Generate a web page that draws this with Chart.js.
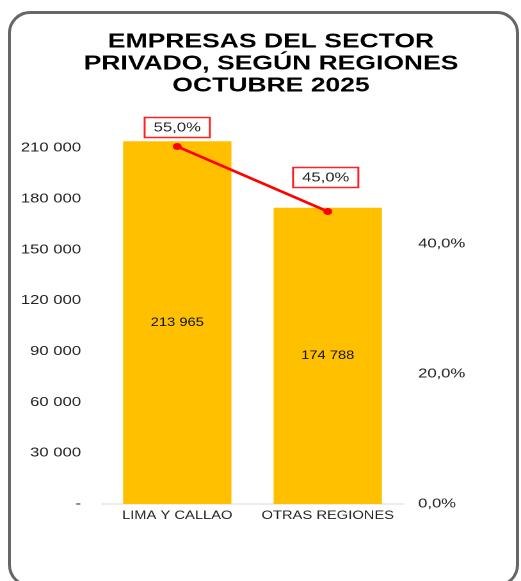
<!DOCTYPE html>
<html><head><meta charset="utf-8">
<script src="https://cdn.jsdelivr.net/npm/chart.js@4.4.1/dist/chart.umd.min.js"></script>
<style>
html,body{margin:0;padding:0;width:521px;height:581px;overflow:hidden;background:#fff;}
#frame{position:absolute;left:8px;top:11px;width:505px;height:570px;border:3px solid #666;border-radius:22px;box-sizing:content-box;}
#c{position:absolute;left:0;top:0;transform-origin:0 0;transform:scaleX(1.2801);}
</style></head><body>
<div id="frame"></div>
<canvas id="c" width="407" height="581"></canvas>
<script>
const titleLines = ['EMPRESAS DEL SECTOR', 'PRIVADO, SEGÚN REGIONES', 'OCTUBRE 2025'];
const categories = ['LIMA Y CALLAO', 'OTRAS REGIONES'];
const empresas = [213965, 174788];
const participacion = [55.0, 45.0];
const leftTicks = [0, 30000, 60000, 90000, 120000, 150000, 180000, 210000];
const rightTicks = [0, 20, 40];

const FONT = "'Liberation Sans', Arial, sans-serif";
const fmtInt = v => v === 0 ? '-' : String(Math.round(v)).replace(/\B(?=(\d{3})+(?!\d))/g, ' ');
const fmtPct = v => v.toFixed(1).replace('.', ',') + '%';

const labelOffsetsY = [-19, -34];
const labelOffsetsX = [0, -1.6];

const labelPlugin = {
  id: 'customLabels',
  afterDatasetsDraw(chart) {
    const ctx = chart.ctx;
    ctx.save();
    const barMeta = chart.getDatasetMeta(1);
    ctx.font = '11.5px ' + FONT;
    ctx.fillStyle = '#111';
    ctx.textAlign = 'center';
    ctx.textBaseline = 'middle';
    barMeta.data.forEach((bar, i) => {
      const p = bar.getProps(['x', 'y', 'base'], true);
      ctx.fillText(fmtInt(empresas[i]), p.x, (p.y + p.base) / 2);
    });
    const lineMeta = chart.getDatasetMeta(0);
    ctx.font = '13px ' + FONT;
    lineMeta.data.forEach((pt, i) => {
      const cx = pt.x + labelOffsetsX[i];
      const cy = pt.y + labelOffsetsY[i];
      const w = 51, h = 20;
      ctx.fillStyle = '#fff';
      ctx.fillRect(cx - w / 2, cy - h / 2, w, h);
      ctx.strokeStyle = '#ff2020';
      ctx.lineWidth = 1.5;
      ctx.strokeRect(cx - w / 2, cy - h / 2, w, h);
      ctx.fillStyle = '#222';
      ctx.fillText(fmtPct(participacion[i]), cx, cy + 0.5);
    });
    ctx.restore();
  }
};

new Chart(document.getElementById('c'), {
  type: 'bar',
  data: {
    labels: categories,
    datasets: [
      {
        type: 'line',
        data: participacion,
        yAxisID: 'y2',
        borderColor: '#ff0000',
        backgroundColor: '#ff0000',
        borderWidth: 2.5,
        pointRadius: 3.5,
        pointBackgroundColor: '#ff0000',
        pointBorderWidth: 0,
        order: 0
      },
      {
        type: 'bar',
        data: empresas,
        yAxisID: 'y',
        backgroundColor: '#FFC000',
        borderWidth: 0,
        categoryPercentage: 1,
        barPercentage: 0.72,
        order: 1
      }
    ]
  },
  options: {
    responsive: false,
    devicePixelRatio: 2,
    animation: false,
    layout: { padding: { left: 16.4, right: 0, top: 0, bottom: 0 } },
    plugins: {
      legend: { display: false },
      tooltip: { enabled: false },
      title: {
        display: true,
        text: titleLines,
        color: '#000',
        font: { family: FONT, size: 20.7, weight: 'bold', lineHeight: '22px' },
        padding: { top: 31, bottom: 33 }
      }
    },
    scales: {
      x: {
        grid: { display: false, drawTicks: false },
        border: { display: true, color: '#d9d9d9', width: 1 },
        ticks: { color: '#222', font: { family: FONT, size: 11.5 }, padding: 5, maxRotation: 0 },
        afterFit: s => { s.height = 77; }
      },
      y: {
        position: 'left',
        min: 0,
        max: 220618,
        grid: { display: false, drawTicks: false },
        border: { display: false },
        ticks: { color: '#222', font: { family: FONT, size: 13 }, padding: 16.4, callback: v => fmtInt(v) },
        afterBuildTicks: s => { s.ticks = leftTicks.map(v => ({ value: v })); },
        afterFit: s => { s.width = 63.3; }
      },
      y2: {
        position: 'right',
        min: 0,
        max: 57.54,
        grid: { display: false, drawTicks: false },
        border: { display: false },
        ticks: { color: '#222', font: { family: FONT, size: 13 }, padding: 11.8, callback: v => fmtPct(v) },
        afterBuildTicks: s => { s.ticks = rightTicks.map(v => ({ value: v })); },
        afterFit: s => { s.width = 92.2; }
      }
    }
  },
  plugins: [labelPlugin]
});
</script>
</body></html>
